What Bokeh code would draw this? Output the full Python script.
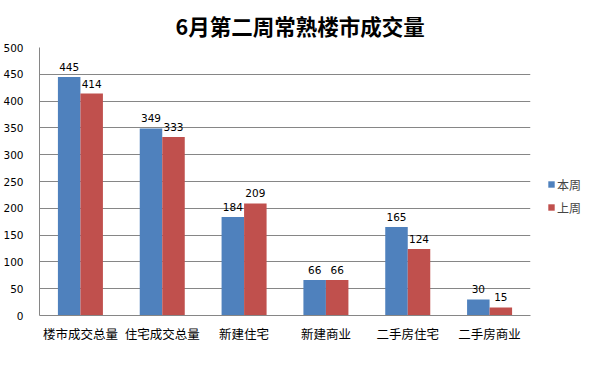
from bokeh.plotting import figure
from bokeh.models import ColumnDataSource, FactorRange, Legend, LegendItem, LabelSet, SingleIntervalTicker
from bokeh.core.properties import value
from bokeh.transform import dodge
from bokeh.embed import file_html
from bokeh.resources import INLINE

categories = ["楼市成交总量", "住宅成交总量", "新建住宅", "新建商业", "二手房住宅", "二手房商业"]
this_week = [445, 349, 184, 66, 165, 30]
last_week = [414, 333, 209, 66, 124, 15]
series_names = ["本周", "上周"]
title_text = "6月第二周常熟楼市成交量"

src = ColumnDataSource(dict(cat=categories, a=this_week, b=last_week,
                            la=[str(v) for v in this_week], lb=[str(v) for v in last_week]))

p = figure(x_range=FactorRange(*categories), y_range=(0, 500),
           frame_width=491, frame_height=268, output_backend="svg", toolbar_location=None,
           min_border_left=37, min_border_right=0, min_border_top=45, min_border_bottom=36)

p.title.text = title_text
p.title.align = "left"
p.title.text_font = "Noto Sans CJK SC"
p.title.text_font_size = "21.5px"
p.title.text_font_style = "bold"
p.title.text_color = "#000000"
p.title.offset = 136
p.title.standoff = 14

bw = 0.275
r1 = p.vbar(x=dodge("cat", -0.1375, range=p.x_range), top="a", width=bw, source=src,
            fill_color="#4F81BD", line_color=None)
r2 = p.vbar(x=dodge("cat", 0.1375, range=p.x_range), top="b", width=bw, source=src,
            fill_color="#C0504D", line_color=None)

for col, lab, off in (("a", "la", -0.1375), ("b", "lb", 0.1375)):
    ls = LabelSet(x=dodge("cat", off, range=p.x_range), y=col, text=lab, source=src,
                  text_align="center", text_baseline="bottom", y_offset=6,
                  text_font=value("DejaVu Sans"), text_font_size=value("10.5px"),
                  text_color="#000000")
    p.add_layout(ls)

legend = Legend(items=[LegendItem(label=series_names[0], renderers=[r1]),
                       LegendItem(label=series_names[1], renderers=[r2])],
                location=(17, 99), border_line_color=None, background_fill_alpha=0,
                label_text_font="Noto Sans CJK SC", label_text_font_size="12px",
                glyph_width=8, glyph_height=8, spacing=5, padding=2, label_standoff=2,
                label_height=18, margin=0)
p.add_layout(legend, "right")

p.yaxis.ticker = SingleIntervalTicker(interval=50)
p.xgrid.grid_line_color = None
p.ygrid.grid_line_color = "#868686"
p.ygrid.grid_line_width = 1
p.outline_line_color = None
for ax in (p.xaxis, p.yaxis):
    ax.axis_line_color = "#868686"
    ax.major_tick_line_color = None
    ax.minor_tick_line_color = None
    ax.major_label_text_color = "#000000"
p.yaxis.major_label_text_font = "DejaVu Sans"
p.yaxis.major_label_text_font_size = "10.5px"
p.yaxis.major_label_standoff = 10
p.xaxis.major_label_text_font = "Noto Sans CJK SC"
p.xaxis.major_label_text_font_size = "12.5px"
p.xaxis.major_label_standoff = 2
p.x_range.range_padding = 0
p.x_range.group_padding = 0
p.background_fill_color = "white"

open("out.html", "w").write(file_html(p, INLINE))
